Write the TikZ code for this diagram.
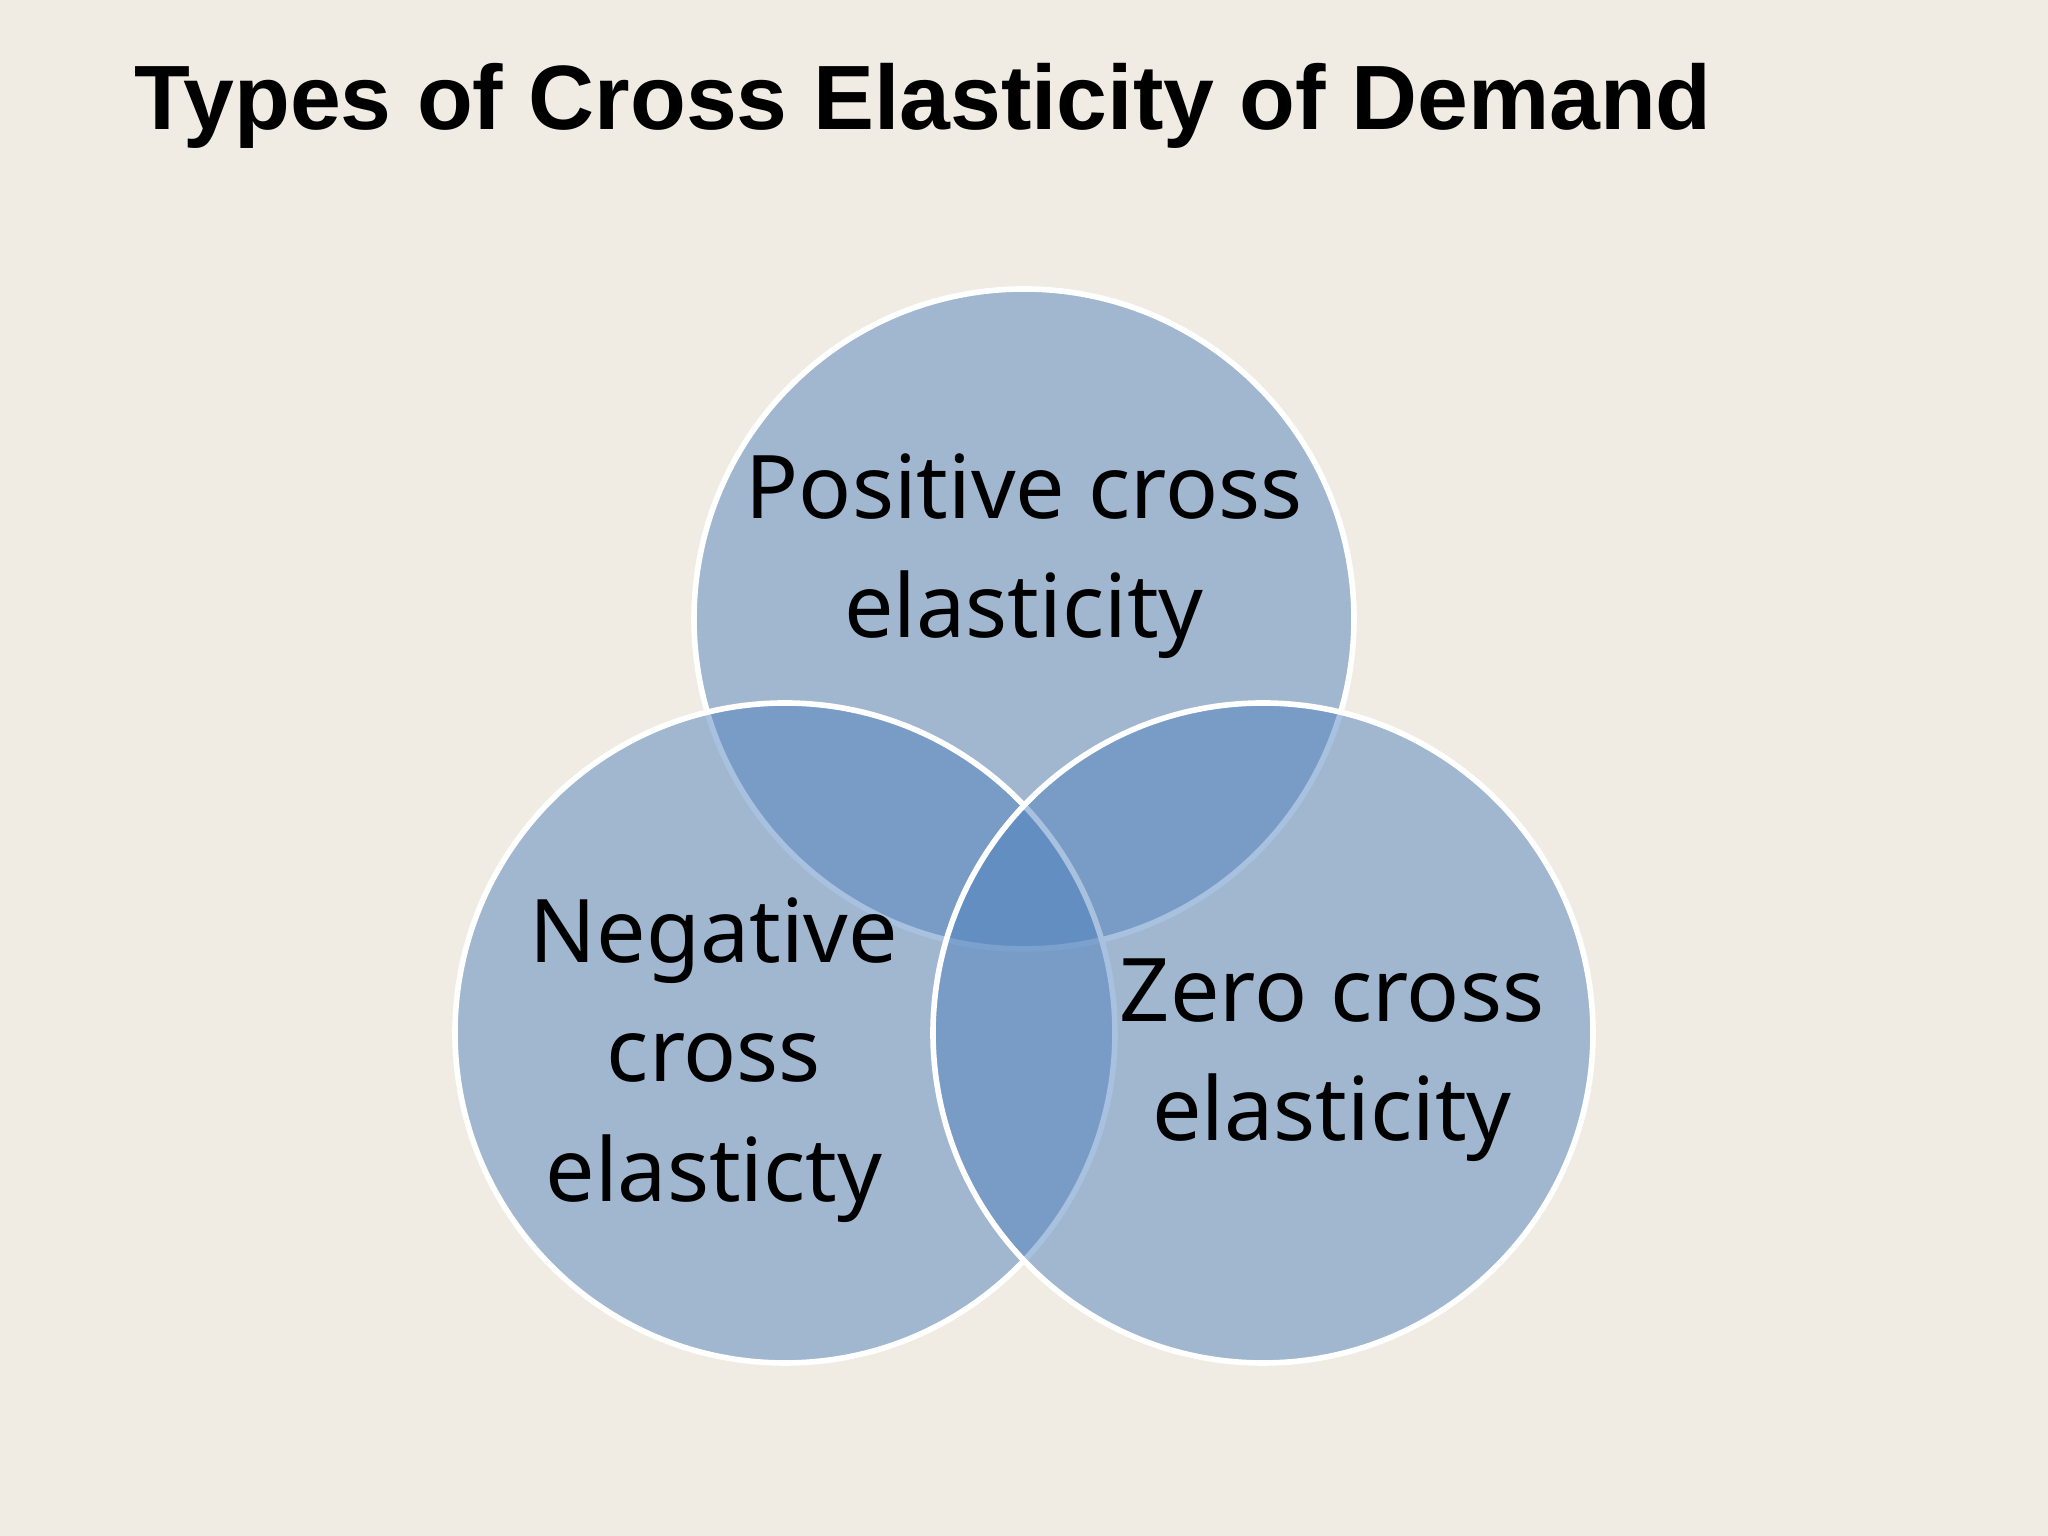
\documentclass[tikz,border=0pt]{standalone}
\usepackage{fontspec}
\setmainfont{Noto Sans}
\newfontfamily\titlefont{Liberation Sans}
\definecolor{bgc}{RGB}{240,236,228}
\definecolor{circc}{RGB}{79,129,189}
\begin{document}
\begin{tikzpicture}
\fill[bgc] (0,0) rectangle (20.48,15.36);
\useasboundingbox (0,0) rectangle (20.48,15.36);
\tikzset{venn/.style={circle,minimum size=6.6cm,fill=circc,fill opacity=0.49,draw=white,draw opacity=1,line width=1.6pt},
lbl/.style={align=center,font=\fontsize{25}{34}\selectfont,text=black}}
\node[anchor=base west,font=\titlefont\bfseries\fontsize{26}{30}\selectfont] (title) at (1.22,14.06) {Types of Cross Elasticity of Demand};
\node[venn] (top) at (10.24,9.17) {};
\node[venn] (left) at (7.85,5.03) {};
\node[venn] (right) at (12.63,5.03) {};
\node[lbl] (tt) at (10.24,9.80) {Positive cross\\elasticity};
\node[lbl] (lt) at (7.14,4.76) {Negative\\cross\\elasticty};
\node[lbl] (rt) at (13.32,4.76) {Zero cross\\elasticity};
\end{tikzpicture}
\end{document}
